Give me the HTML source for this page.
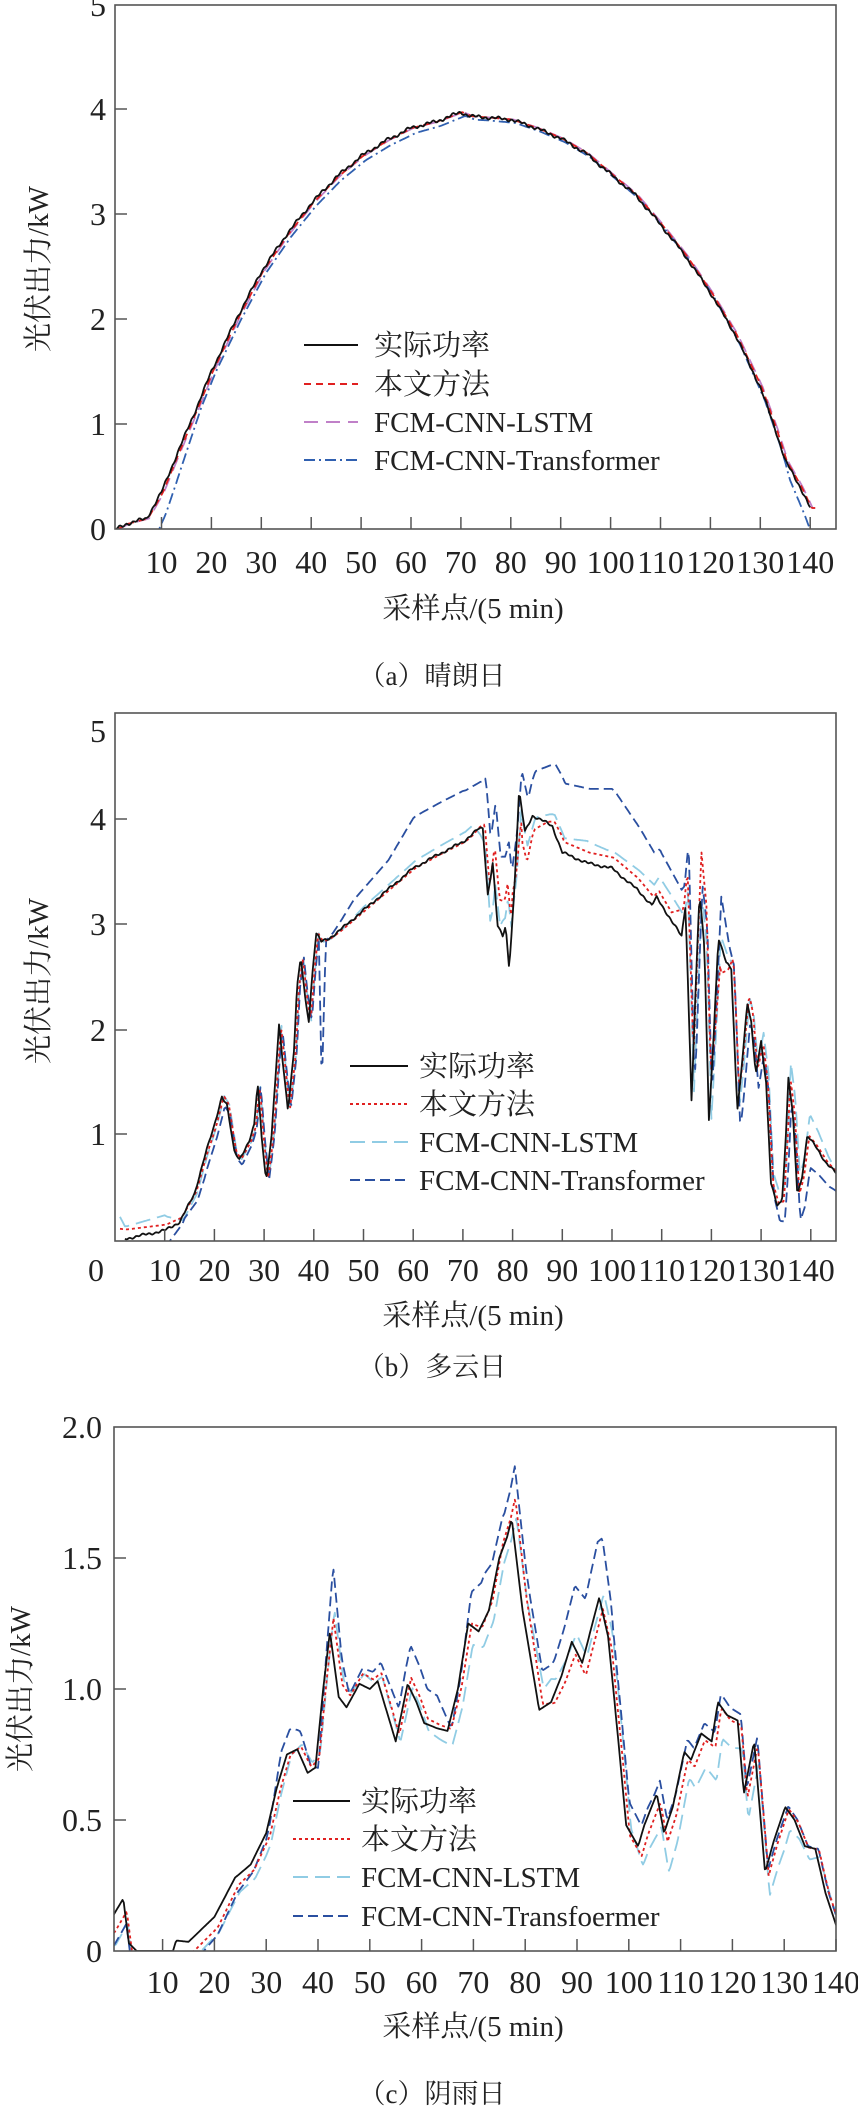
<!DOCTYPE html>
<html><head><meta charset="utf-8">
<style>
html,body{margin:0;padding:0;background:#fff;}
svg{display:block;}
text{font-family:"Liberation Serif","Noto Serif CJK SC","Noto Sans CJK SC",serif;fill:#222;}
</style></head>
<body>
<svg id="s" width="858" height="2106" viewBox="0 0 858 2106" xmlns="http://www.w3.org/2000/svg">
<defs>
<clipPath id="ca"><rect x="115" y="5" width="721" height="524"/></clipPath>
<clipPath id="cb"><rect x="115" y="713" width="721" height="528"/></clipPath>
<clipPath id="cc"><rect x="114" y="1427" width="722" height="524"/></clipPath>
</defs>
<g id="ga" clip-path="url(#ca)"></g>
<g id="gb" clip-path="url(#cb)"></g>
<g id="gc" clip-path="url(#cc)"></g>
<g id="axes" stroke="#555" stroke-width="1.6" fill="none">
<rect x="115" y="5" width="721" height="524"/>
<rect x="115" y="713" width="721" height="528"/>
<rect x="114" y="1427" width="722" height="524"/>
</g>
<g id="ticks" stroke="#555" stroke-width="1.5"></g>

<g font-size="32" text-anchor="end">
<text x="106" y="16">5</text><text x="106" y="120">4</text><text x="106" y="225">3</text><text x="106" y="330">2</text><text x="106" y="435">1</text><text x="106" y="540">0</text>
</g>
<g font-size="32" text-anchor="middle" id="xla"></g>
<text x="473" y="618" font-size="29" text-anchor="middle">采样点/(5 min)</text>
<text x="432" y="685" font-size="27" text-anchor="middle">（a）晴朗日</text>
<text transform="translate(48,269) rotate(-90)" font-size="29" text-anchor="middle">光伏出力/kW</text>
<g font-size="29">
<line x1="304" y1="345" x2="358" y2="345" stroke="#111" stroke-width="2"/>
<line x1="304" y1="384" x2="358" y2="384" stroke="#e02020" stroke-width="2" stroke-dasharray="7,5"/>
<line x1="304" y1="422" x2="358" y2="422" stroke="#c080c8" stroke-width="2" stroke-dasharray="14,8"/>
<line x1="304" y1="460" x2="358" y2="460" stroke="#3060b0" stroke-width="2" stroke-dasharray="11,4,2,4"/>
<text x="374" y="355">实际功率</text>
<text x="374" y="394">本文方法</text>
<text x="374" y="432">FCM-CNN-LSTM</text>
<text x="374" y="470">FCM-CNN-Transformer</text>
</g>

<g font-size="32" text-anchor="end">
<text x="106" y="742">5</text><text x="106" y="830">4</text><text x="106" y="935">3</text><text x="106" y="1041">2</text><text x="106" y="1145">1</text>
</g>
<text x="96" y="1281" font-size="32" text-anchor="middle">0</text>
<g font-size="32" text-anchor="middle" id="xlb"></g>
<text x="473" y="1325" font-size="29" text-anchor="middle">采样点/(5 min)</text>
<text x="432" y="1376" font-size="27" text-anchor="middle">（b）多云日</text>
<text transform="translate(48,981) rotate(-90)" font-size="29" text-anchor="middle">光伏出力/kW</text>
<g font-size="29">
<line x1="350" y1="1066" x2="408" y2="1066" stroke="#111" stroke-width="2"/>
<line x1="350" y1="1104" x2="408" y2="1104" stroke="#e02020" stroke-width="2" stroke-dasharray="3,3"/>
<line x1="350" y1="1142" x2="408" y2="1142" stroke="#90cce4" stroke-width="2" stroke-dasharray="15,7"/>
<line x1="350" y1="1180" x2="408" y2="1180" stroke="#2a4fa0" stroke-width="2" stroke-dasharray="10,5"/>
<text x="419" y="1076">实际功率</text>
<text x="419" y="1114">本文方法</text>
<text x="419" y="1152">FCM-CNN-LSTM</text>
<text x="419" y="1190">FCM-CNN-Transformer</text>
</g>

<g font-size="32" text-anchor="end">
<text x="102" y="1438">2.0</text><text x="102" y="1569">1.5</text><text x="102" y="1700">1.0</text><text x="102" y="1831">0.5</text><text x="102" y="1962">0</text>
</g>
<g font-size="32" text-anchor="middle" id="xlc"></g>
<text x="473" y="2036" font-size="29" text-anchor="middle">采样点/(5 min)</text>
<text x="432" y="2103" font-size="27" text-anchor="middle">（c）阴雨日</text>
<text transform="translate(30,1689) rotate(-90)" font-size="29" text-anchor="middle">光伏出力/kW</text>
<g font-size="29">
<line x1="293" y1="1801" x2="350" y2="1801" stroke="#111" stroke-width="2"/>
<line x1="293" y1="1839" x2="350" y2="1839" stroke="#e02020" stroke-width="2" stroke-dasharray="3,3"/>
<line x1="293" y1="1877" x2="350" y2="1877" stroke="#90cce4" stroke-width="2" stroke-dasharray="15,7"/>
<line x1="293" y1="1916" x2="350" y2="1916" stroke="#2a4fa0" stroke-width="2" stroke-dasharray="10,5"/>
<text x="361" y="1811">实际功率</text>
<text x="361" y="1849">本文方法</text>
<text x="361" y="1887">FCM-CNN-LSTM</text>
<text x="361" y="1926">FCM-CNN-Transfoermer</text>
</g>
</svg>
<script>
var NS="http://www.w3.org/2000/svg";
function interp(p,x){if(x<=p[0][0])return p[0][1];for(var i=1;i<p.length;i++){if(x<=p[i][0]){var a=p[i-1],b=p[i];return a[1]+(b[1]-a[1])*(x-a[0])/(b[0]-a[0]);}}return p[p.length-1][1];}
function el(t,a,par){var e=document.createElementNS(NS,t);for(var k in a)e.setAttribute(k,a[k]);par.appendChild(e);return e;}
function path(g,f,X,Y,x0,x1,st){var d="";for(var x=x0;x<=x1+1e-9;x+=0.25){var v=f(x);d+=(d?"L":"M")+X(x).toFixed(1)+","+Y(v).toFixed(1);}
 var a={d:d,fill:"none",stroke:st.c,"stroke-width":st.w||1.8,"stroke-linejoin":"round"};if(st.da)a["stroke-dasharray"]=st.da;el("path",a,g);}
function derive(base,lag,off,noise){return function(x){var v=base(x-lag)+interp(off,x);if(noise)v+=noise*Math.sin(x*3.1)*Math.cos(x*1.7);return v;};}
var T=document.getElementById("ticks");
function ticks(X,yb,n0,n1,lab,ly){var g=document.getElementById(lab);for(var i=n0;i<=n1;i++){var x=X(i*10);el("line",{x1:x,y1:yb,x2:x,y2:yb-12},T);var t=el("text",{x:x,y:ly},g);t.textContent=i*10;}}
function yt(x,ys){ys.forEach(function(y){el("line",{x1:x,y1:y,x2:x+12,y2:y},T);});}

var Xa=function(x){return 111.6+4.99*x},Ya=function(v){return 529-105*v};
ticks(Xa,529,1,14,"xla",573);yt(115,[109,214,319,424]);
var A=[[0,-0.02],[1,0],[3,0.05],[7,0.1],[10,0.35],[13,0.7],[17,1.15],[20,1.5],[25,2.0],[30,2.45],[35,2.8],[40,3.1],[45,3.35],[50,3.55],[55,3.7],[60,3.82],[65,3.88],[70,3.97],[72,3.93],[75,3.92],[80,3.9],[85,3.82],[90,3.72],[95,3.58],[100,3.38],[105,3.18],[110,2.9],[115,2.6],[120,2.25],[125,1.85],[130,1.35],[133,0.95],[135,0.65],[138,0.4],[140,0.2]];
var fa=function(x){return interp(A,x)};
var ga=document.getElementById("ga");
path(ga,derive(fa,0.5,[[0,0],[140,0]]),Xa,Ya,1,141,{c:"#c080c8",da:"14,8"});
path(ga,derive(fa,0.9,[[0,-0.05],[9,-0.25],[13,-0.15],[18,0],[60,-0.05],[75,-0.03],[120,-0.05],[135,-0.15],[140,-0.3]]),Xa,Ya,8,141,{c:"#3060b0",da:"11,4,2,4"});
path(ga,derive(fa,0.3,[[0,0],[140,0]]),Xa,Ya,1,141,{c:"#e02020",da:"7,5"});
path(ga,derive(fa,0,[[0,0],[140,0]],0.02),Xa,Ya,1,140,{c:"#111"});

var Xb=function(x){return 115+4.97*x},Yb=function(v){return 1241-105*v};
ticks(Xb,1241,1,14,"xlb",1281);yt(115,[819,924,1030,1134]);
var B=[[2,0.02],[10,0.1],[13,0.18],[16,0.45],[18,0.8],[20,1.1],[21.5,1.38],[22.5,1.3],[24,0.85],[25,0.78],[27,0.95],[28,1.1],[28.7,1.5],[29.5,1.0],[30.4,0.58],[31.5,1.0],[33,2.05],[34,1.6],[34.8,1.25],[36,1.8],[36.6,2.4],[37.4,2.7],[38.3,2.3],[39,2.1],[39.8,2.6],[40.5,2.93],[41.5,2.85],[43,2.88],[45,2.95],[50,3.15],[55,3.35],[60,3.55],[65,3.68],[70,3.8],[73,3.92],[74,3.93],[75,3.3],[76,3.6],[77,3.0],[78,2.9],[78.6,3.0],[79.3,2.6],[80.3,3.3],[81.3,4.28],[82.5,3.9],[84,4.05],[87,3.98],[88,3.95],[90,3.7],[95,3.6],[100,3.55],[105,3.35],[108,3.2],[109,3.27],[112,3.05],[114,2.9],[114.8,3.2],[116,1.35],[117,2.6],[117.6,3.3],[118.6,2.8],[119.5,1.15],[120.5,2.0],[121.4,2.88],[123,2.65],[124,2.6],[125.2,1.25],[126,1.6],[127.2,2.25],[128,2.1],[128.9,1.6],[130,1.9],[131,1.5],[132,0.55],[133.2,0.35],[134.2,0.38],[135,1.0],[135.5,1.55],[136.4,1.2],[137.3,0.45],[138.2,0.6],[139.3,1.0],[141,0.9],[143,0.75],[145,0.65],[146,0.7]];
var fb=function(x){return interp(B,x)};
var gb=document.getElementById("gb");
path(gb,derive(fb,0.5,[[0,0.3],[2,0.12],[10,0.15],[14,0],[45,0],[50,0.05],[72,0.1],[76,-0.3],[78,0.1],[80,0.4],[82,-0.2],[85,0.0],[88,0.1],[95,0.2],[100,0.15],[110,0.2],[114,0.2],[118,0],[133,0.1],[140,0.2],[145,0]]),Xb,Yb,1,146,{c:"#90cce4",da:"15,7"});
path(gb,derive(fb,0.6,[[0,-0.1],[10,-0.15],[14,0],[18,-0.1],[22,-0.1],[30,0],[41,0],[41.6,-1.45],[42.4,0],[44,0.05],[48,0.2],[55,0.3],[60,0.5],[70,0.5],[74,0.45],[77,0.6],[80,0.9],[82,0.2],[84,0.4],[90,0.65],[100,0.75],[110,0.45],[114,0.4],[115.5,0.6],[117,0],[122,0.4],[126,-0.2],[132,-0.1],[135,-0.2],[140,-0.3],[145,-0.2]]),Xb,Yb,1,146,{c:"#2a4fa0",da:"10,5"});
path(gb,derive(fb,0.4,[[0,0.1],[12,0.05],[20,0],[72,0],[75,0.05],[78,0.3],[80,0.5],[82,-0.4],[84,-0.15],[87,0],[90,0.1],[105,0.1],[112,0.05],[116,0.4],[120,0.4],[122,-0.3],[125,0.2],[130,0],[145,0]]),Xb,Yb,1,146,{c:"#e02020",da:"3,3"});
path(gb,derive(fb,0,[[0,0],[146,0]],0.015),Xb,Yb,2,146,{c:"#111"});

var Xc=function(x){return 110.8+5.18*x},Yc=function(v){return 1951-262*v};
ticks(Xc,1951,1,14,"xlc",1993);yt(114,[1558,1689,1820]);
var C=[[0,0.12],[1.5,0.17],[2.4,0.2],[3.5,0.03],[5,0],[12,0],[12.6,0.04],[15,0.035],[20,0.13],[24,0.28],[27,0.33],[30,0.45],[32,0.62],[34,0.75],[36,0.77],[38,0.68],[39.5,0.7],[41,1.0],[42.3,1.22],[44,0.97],[45.5,0.93],[48,1.02],[50,1.0],[51.5,1.03],[53.5,0.9],[55,0.8],[57.3,1.02],[59,0.95],[60.5,0.87],[63,0.85],[65,0.84],[67,1.0],[69,1.25],[71,1.22],[73,1.3],[75,1.5],[76.5,1.58],[77.4,1.65],[79.5,1.3],[82.7,0.92],[85,0.95],[87,1.05],[89,1.18],[91,1.1],[94.3,1.35],[96,1.2],[98,0.8],[99.5,0.48],[101.8,0.4],[103,0.48],[105.4,0.6],[106.8,0.45],[108.5,0.55],[110.7,0.76],[112,0.73],[114,0.83],[116,0.8],[117.2,0.95],[119,0.9],[121,0.88],[122.2,0.6],[124.2,0.8],[126.3,0.3],[128,0.42],[130.2,0.55],[132,0.5],[134,0.4],[136,0.39],[138,0.22],[140,0.1]];
var fc=function(x){return interp(C,x)};
var gc=document.getElementById("gc");
path(gc,derive(fc,0.9,[[0,-0.1],[20,-0.06],[30,-0.05],[43,0.08],[50,0.03],[70,-0.08],[78,0],[85,0.1],[90,0.03],[100,0],[103,-0.08],[108,-0.15],[112,-0.1],[117,-0.15],[125,-0.08],[130,-0.1],[140,0]]),Xc,Yc,0.5,141,{c:"#90cce4",da:"15,7"});
path(gc,derive(fc,0.6,[[0,-0.1],[18,-0.08],[25,-0.05],[30,0],[33,0.12],[36,0.08],[40,0],[43,0.25],[46,0.05],[52,0.07],[57,0.15],[63,0.12],[66,0],[72,0.2],[76,0.15],[78,0.2],[81,0.15],[85,0.15],[90,0.22],[94,0.28],[97,0.1],[102,0.08],[105,0.05],[110,0.05],[132,0],[140,0]]),Xc,Yc,0.5,141,{c:"#2a4fa0",da:"10,5"});
path(gc,derive(fc,0.7,[[0,-0.05],[20,-0.04],[35,0],[43,0.05],[70,0],[78,0.08],[90,-0.05],[110,-0.03],[140,0]]),Xc,Yc,0.5,141,{c:"#e02020",da:"3,3"});
path(gc,derive(fc,0,[[0,0],[140,0]]),Xc,Yc,0,141,{c:"#111"});
</script>
</body></html>
